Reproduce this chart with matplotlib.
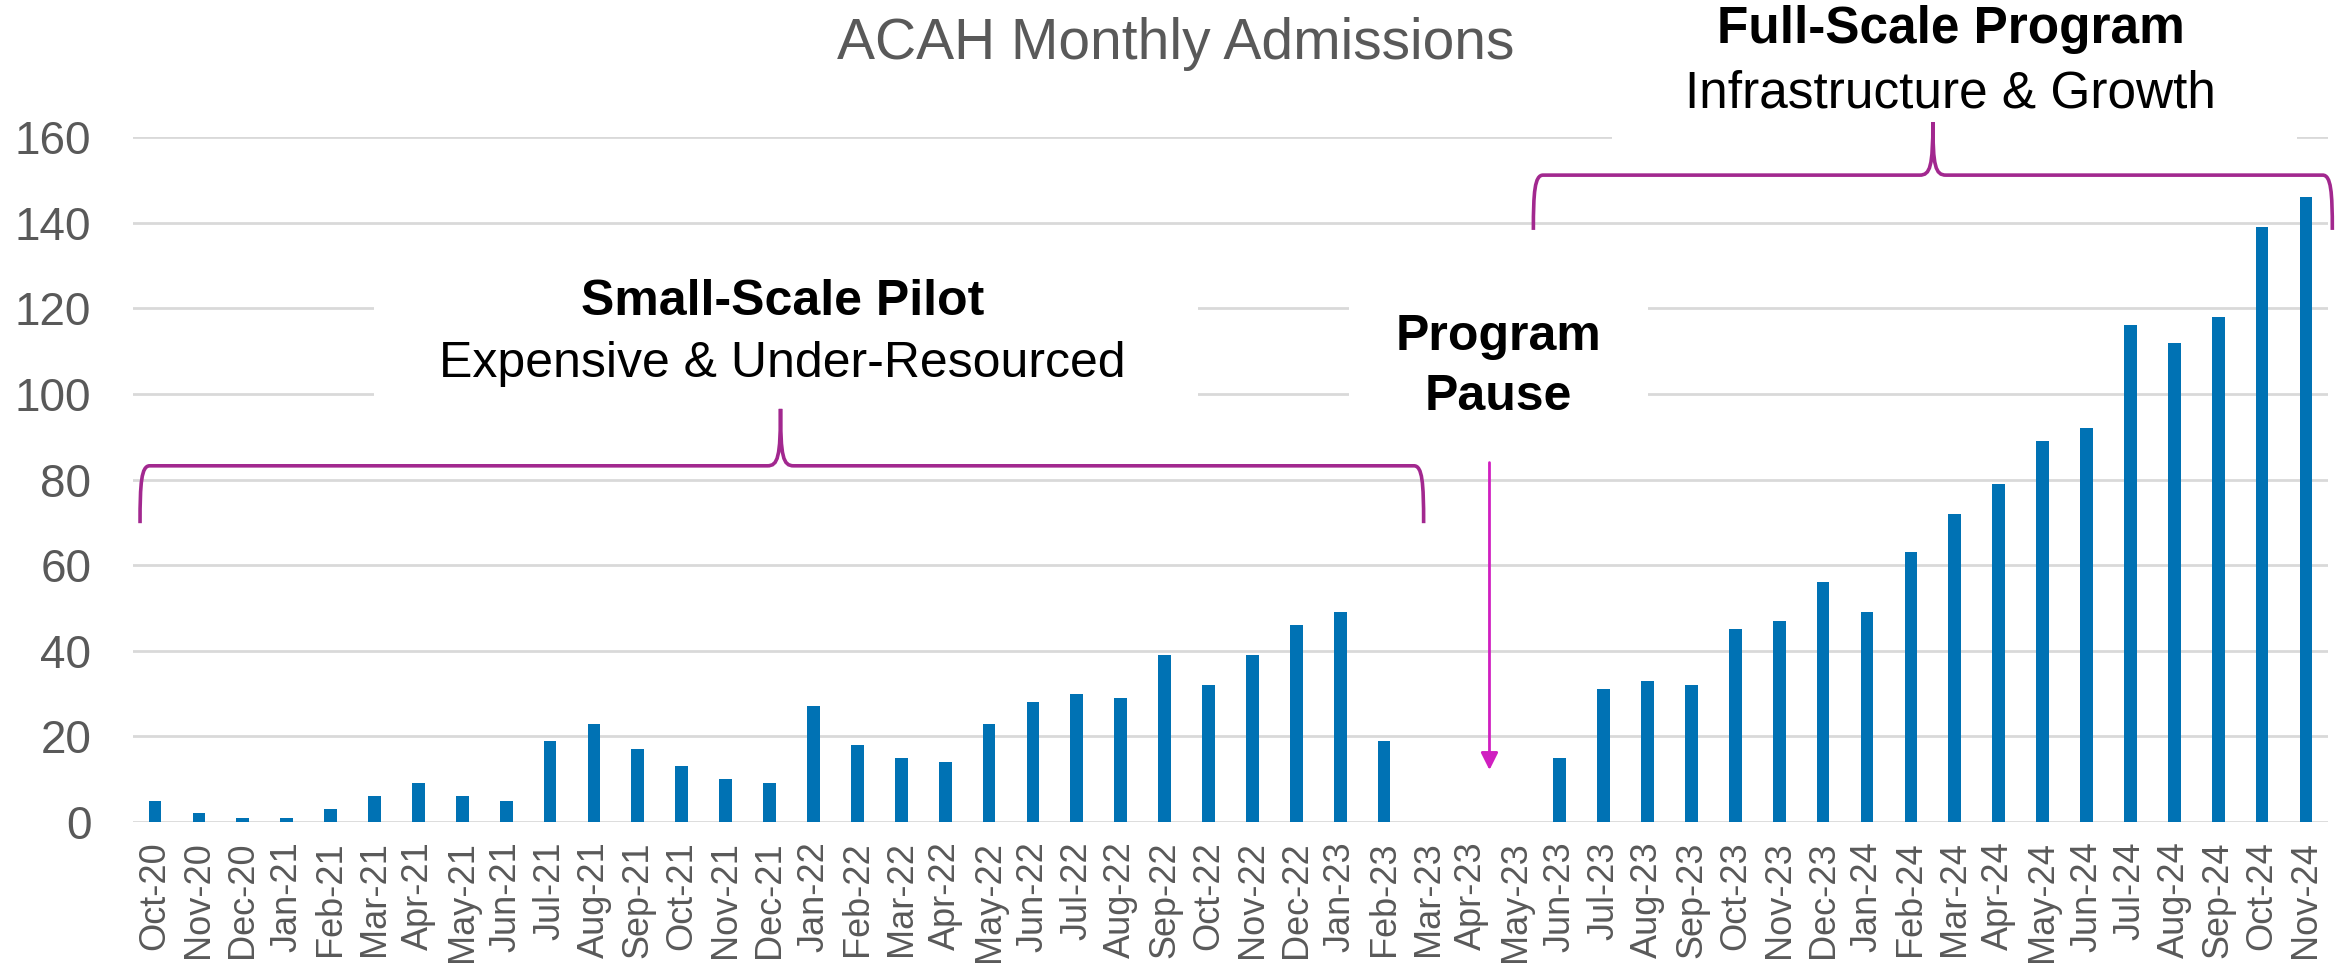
import matplotlib.pyplot as plt
import numpy as np
from matplotlib.path import Path
from matplotlib.patches import PathPatch, Rectangle

months = ["Oct-20", "Nov-20", "Dec-20", "Jan-21", "Feb-21", "Mar-21", "Apr-21", "May-21",
          "Jun-21", "Jul-21", "Aug-21", "Sep-21", "Oct-21", "Nov-21", "Dec-21", "Jan-22",
          "Feb-22", "Mar-22", "Apr-22", "May-22", "Jun-22", "Jul-22", "Aug-22", "Sep-22",
          "Oct-22", "Nov-22", "Dec-22", "Jan-23", "Feb-23", "Mar-23", "Apr-23", "May-23",
          "Jun-23", "Jul-23", "Aug-23", "Sep-23", "Oct-23", "Nov-23", "Dec-23", "Jan-24",
          "Feb-24", "Mar-24", "Apr-24", "May-24", "Jun-24", "Jul-24", "Aug-24", "Sep-24",
          "Oct-24", "Nov-24"]
admissions = [5, 2, 1, 1, 3, 6, 9, 6, 5, 19, 23, 17, 13, 10, 9, 27,
              18, 15, 14, 23, 28, 30, 29, 39, 32, 39, 46, 49, 19, 0, 0, 0,
              15, 31, 33, 32, 45, 47, 56, 49, 63, 72, 79, 89, 92, 116, 112, 118,
              139, 146]
yticks = [0, 20, 40, 60, 80, 100, 120, 140, 160]

BLUE = "#0072B4"
GRID = "#d9d9d9"
GRAY = "#595959"
BRACE = "#a2288f"
ARROW = "#d01fc0"

plt.rcParams['font.family'] = ['Liberation Sans', 'DejaVu Sans']

fig = plt.figure(figsize=(23.46, 9.69), dpi=100)
ax = fig.add_axes([0.0567, 0.1517, 0.9356, 0.7069])

x = np.arange(len(months))
ax.bar(x, admissions, width=0.29, color=BLUE, zorder=3)

ax.set_xlim(-0.5, len(months) - 0.5)
ax.set_ylim(0, 160)
ax.set_yticks(yticks)
ax.set_xticks(x)
ax.set_xticklabels(months, rotation=90, fontsize=26, color=GRAY)
ax.tick_params(axis='y', labelsize=33, colors=GRAY, length=0, pad=30)
ax.tick_params(axis='x', length=0, pad=14)
for s in ax.spines.values():
    s.set_visible(False)
ax.grid(axis='y', color=GRID, linewidth=2, zorder=0)
ax.set_axisbelow(True)


def brace(x0, x1, xc, y_end, y_h, y_peak):
    r = 0.22
    verts = [(x0, y_end), (x0, y_h - 4), (x0 + 0.03, y_h), (x0 + r, y_h),
             (xc - 0.3, y_h),
             (xc - 0.06, y_h), (xc, y_h + 2), (xc, y_peak),
             (xc, y_h + 2), (xc + 0.06, y_h), (xc + 0.3, y_h),
             (x1 - r, y_h),
             (x1 - 0.03, y_h), (x1, y_h - 4), (x1, y_end)]
    codes = [Path.MOVETO, Path.CURVE4, Path.CURVE4, Path.CURVE4,
             Path.LINETO,
             Path.CURVE4, Path.CURVE4, Path.CURVE4,
             Path.CURVE4, Path.CURVE4, Path.CURVE4,
             Path.LINETO,
             Path.CURVE4, Path.CURVE4, Path.CURVE4]
    ax.add_patch(PathPatch(Path(verts, codes), fill=False, edgecolor=BRACE,
                           linewidth=2.6, zorder=5, clip_on=False))


# white boxes behind the annotation texts
ax.add_patch(Rectangle((5.0, 93), 18.75, 35, facecolor='white', edgecolor='none', zorder=1))
ax.add_patch(Rectangle((27.2, 93), 6.8, 35, facecolor='white', edgecolor='none', zorder=1))
ax.add_patch(Rectangle((33.2, 155), 15.6, 30, facecolor='white', edgecolor='none',
                       zorder=1, clip_on=False))

brace(-0.34, 28.9, 14.25, 69.8, 83.2, 96.5)
brace(31.4, 49.6, 40.5, 138.3, 151.1, 163.5)

ax.annotate("", xy=(30.4, 11.5), xytext=(30.4, 84.6),
            arrowprops=dict(arrowstyle="-|>", color=ARROW, lw=2, mutation_scale=26),
            zorder=6)

ax.text(14.3, 118.4, "Small-Scale Pilot", ha='center', va='baseline', fontsize=36,
        fontweight='bold', color='black', zorder=6)
ax.text(14.3, 103.9, "Expensive & Under-Resourced", ha='center', va='baseline',
        fontsize=36, color='black', zorder=6)
ax.text(30.6, 110.3, "Program", ha='center', va='baseline', fontsize=36,
        fontweight='bold', color='black', zorder=6)
ax.text(30.6, 96.2, "Pause", ha='center', va='baseline', fontsize=36,
        fontweight='bold', color='black', zorder=6)
ax.text(40.9, 182, "Full-Scale Program", ha='center', va='baseline', fontsize=37,
        fontweight='bold', color='black', zorder=6, clip_on=False)
ax.text(40.9, 167, "Infrastructure & Growth", ha='center', va='baseline', fontsize=37,
        color='black', zorder=6, clip_on=False)

fig.text(1176 / 2346, 1 - 59 / 969, "ACAH Monthly Admissions", ha='center', va='baseline',
         fontsize=41, color=GRAY)

plt.savefig("out.png", dpi=100)
